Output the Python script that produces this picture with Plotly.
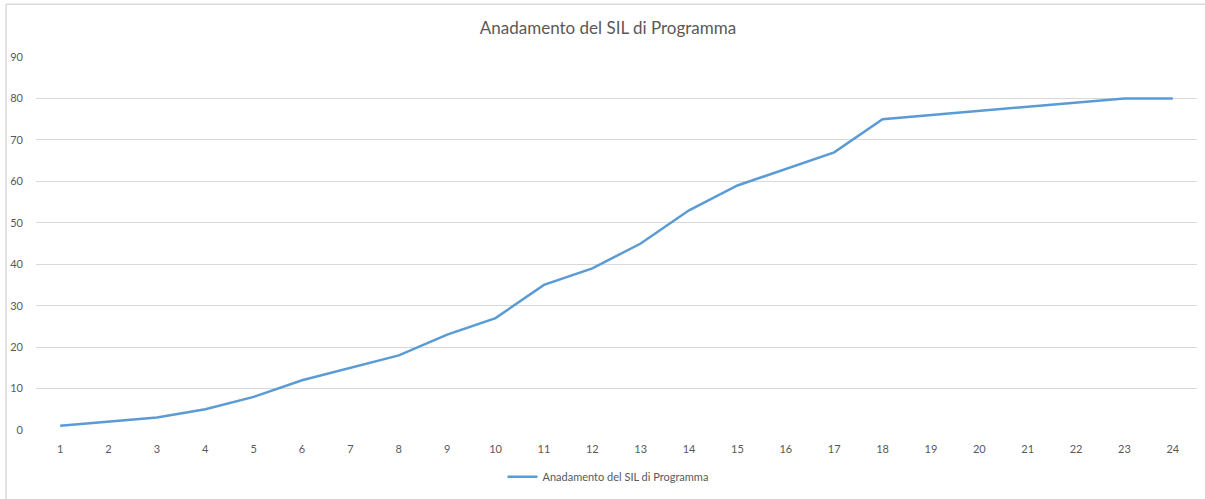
import plotly.graph_objects as go

months = list(range(1, 25))
sil_values = [1, 2, 3, 5, 8, 12, 15, 18, 23, 27, 35, 39, 45, 53, 59, 63, 67, 75, 76, 77, 78, 79, 80, 80]
series_name = "Anadamento del SIL di Programma"
title_text = "Anadamento del SIL di Programma"
y_ticks = list(range(0, 100, 10))

W, H = 1205, 499
L, R, T, B = 36, 8, 57, 67
pw, ph = W - L - R, H - T - B

def px_x(p):
    return (p - L) / pw

def px_y(p):
    return 1 - (p - T) / ph

fig = go.Figure()
fig.add_trace(go.Scatter(
    x=months, y=sil_values, mode="lines", name=series_name,
    line=dict(color="#5B9BD5", width=2.5),
    showlegend=True,
))

font_family = "Lato, Open Sans, sans-serif"
fig.update_layout(
    width=W, height=H,
    margin=dict(l=L, r=R, t=T, b=B),
    paper_bgcolor="white", plot_bgcolor="white",
    title=dict(text=title_text, xref="container", x=608 / W, xanchor="center", y=1 - 28 / H, yanchor="middle",
               font=dict(family=font_family, size=17, color="#595959")),
    xaxis=dict(range=[0.5, 24.5], tickmode="array", tickvals=months, ticktext=[str(m) for m in months],
               showgrid=False, zeroline=False, showline=False, ticks="", ticklabelstandoff=11,
               tickfont=dict(family=font_family, size=11, color="#595959")),
    yaxis=dict(range=[0, 90], tickmode="array", tickvals=y_ticks, showgrid=True, gridcolor="#D9D9D9",
               gridwidth=1, zeroline=False, showline=False, ticks="", ticklabelstandoff=12,
               tickfont=dict(family=font_family, size=11, color="#595959")),
    legend=dict(orientation="h", x=px_x(608), xanchor="center", y=px_y(479), yanchor="middle",
                font=dict(family=font_family, size=11, color="#595959"), itemwidth=30),
    shapes=[
        dict(type="line", xref="paper", yref="paper", x0=px_x(6), x1=px_x(1210), y0=px_y(4), y1=px_y(4),
             line=dict(color="#D9D9D9", width=1.5)),
        dict(type="line", xref="paper", yref="paper", x0=px_x(6), x1=px_x(6), y0=px_y(4), y1=px_y(505),
             line=dict(color="#D9D9D9", width=1.5)),
    ],
)

fig.write_html("out.html", config={"displayModeBar": False},
               post_script="document.body.style.margin='0';document.body.style.overflow='hidden';")
